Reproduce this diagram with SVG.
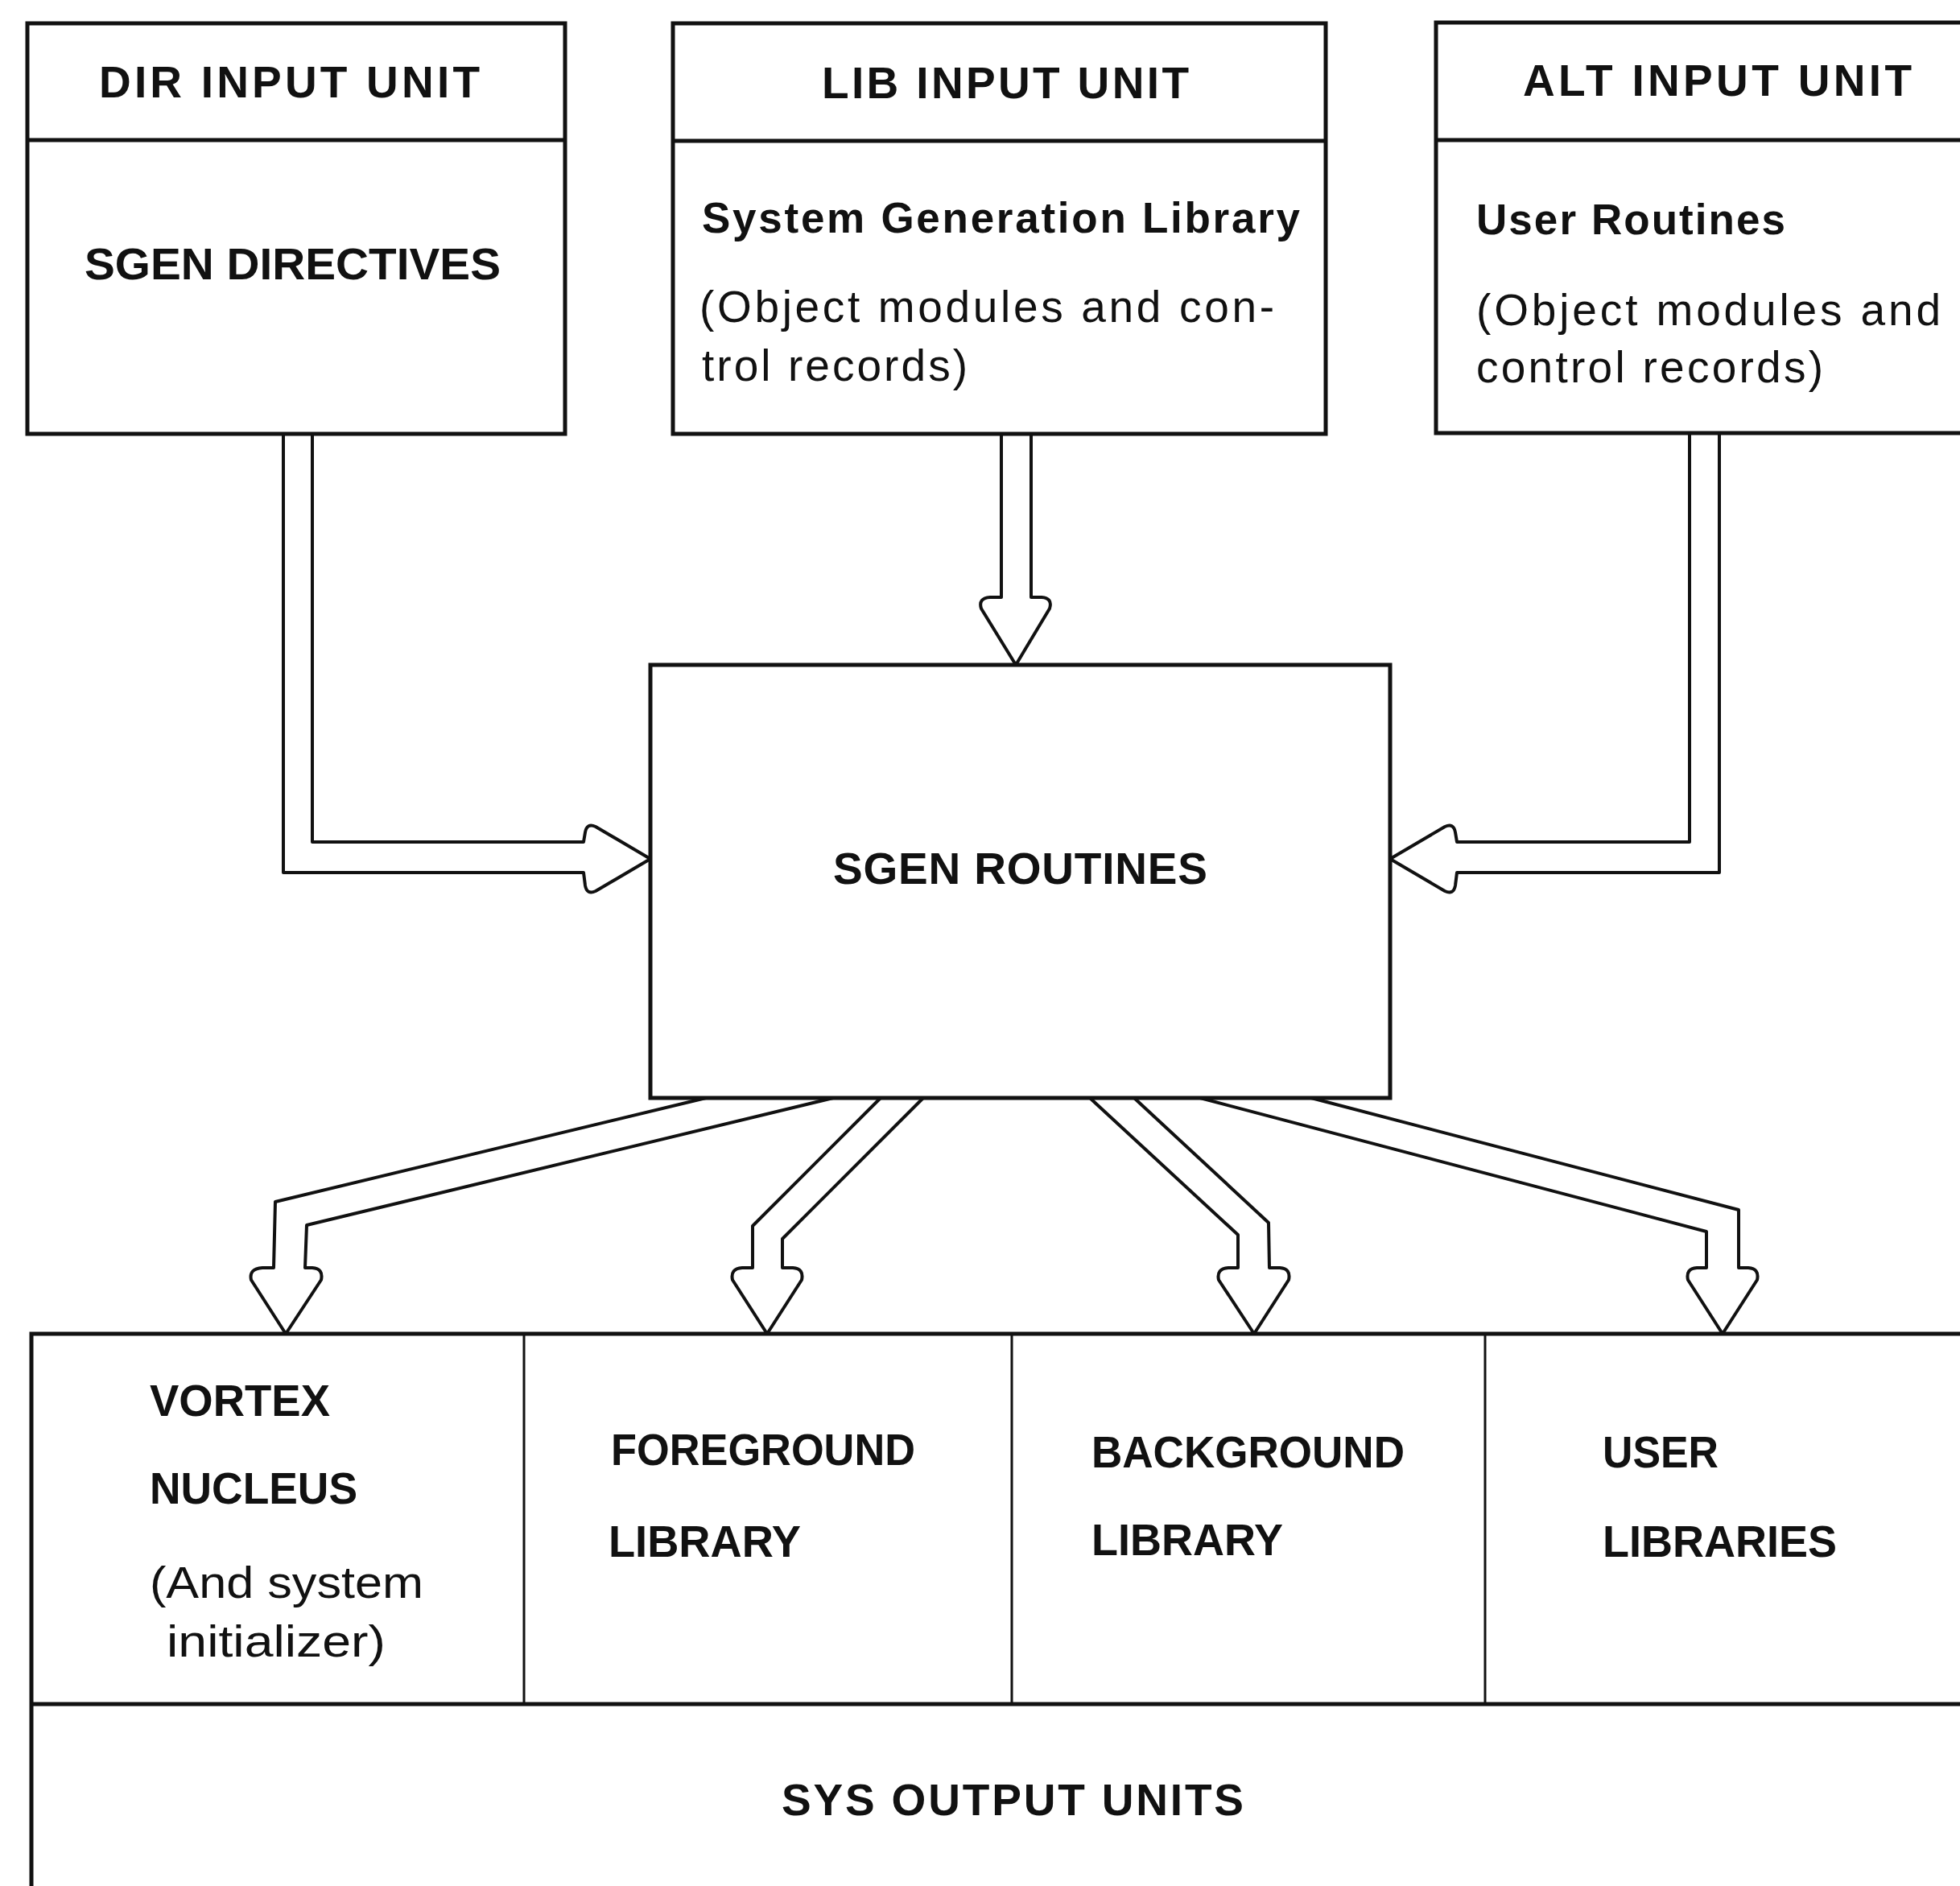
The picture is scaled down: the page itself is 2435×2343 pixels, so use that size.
<svg xmlns="http://www.w3.org/2000/svg" width="2435" height="2343" viewBox="0 0 2435 2343">
<style>
.box{fill:#fff;stroke:#111;stroke-width:5}
.div{fill:none;stroke:#111;stroke-width:5}
.thin{fill:none;stroke:#111;stroke-width:3}
.arr{fill:#fff;stroke:#111;stroke-width:4;stroke-linejoin:round}
.cap{font-family:"Liberation Sans",Arial,sans-serif;font-weight:bold;font-size:55px;fill:#111}
.sub{font-family:"Liberation Sans",Arial,sans-serif;font-weight:bold;font-size:53px;fill:#111}
.reg{font-family:"Liberation Sans",Arial,sans-serif;font-weight:normal;font-size:55px;fill:#111}
</style>
<rect width="2435" height="2343" fill="#fff"/>

<g id="connectors">
  <path id="c-dir" class="arr" d="M352,539 L352,1084 L725,1084 L727,1100 Q729,1112 740,1107 L808,1067 L740,1027 Q729,1022 727,1034 L725,1046 L388,1046 L388,539"/>
  <path id="c-lib" class="arr" d="M1244,539 L1244,742 L1230,742 Q1215,743 1219,756 L1262,826 L1304,756 Q1308,743 1294,742 L1281,742 L1281,539"/>
  <path id="c-alt" class="arr" d="M2136,539 L2136,1084 L1810,1084 L1808,1100 Q1806,1112 1795,1107 L1727,1067 L1795,1027 Q1806,1022 1808,1034 L1810,1046 L2099,1046 L2099,539"/>
  <path id="c-vortex" class="arr" d="M877,1364 L342,1493 L340,1575 L326,1575 Q309,1576 312,1590 L355,1657 L399,1590 Q402,1576 388,1575 L379,1575 L381,1522 L1035,1364"/>
  <path id="c-fore" class="arr" d="M1094,1364 L935,1523 L935,1575 L922,1575 Q907,1576 910,1590 L953,1657 L996,1590 Q999,1576 985,1575 L972,1575 L972,1539 L1147,1364"/>
  <path id="c-back" class="arr" d="M1354,1364 L1538,1534 L1538,1575 L1526,1575 Q1511,1576 1514,1590 L1558,1657 L1601,1590 Q1604,1576 1590,1575 L1577,1575 L1576,1519 L1409,1364"/>
  <path id="c-user" class="arr" d="M1491,1364 L2120,1530 L2120,1575 L2108,1575 Q2094,1576 2097,1590 L2140,1657 L2183,1590 Q2186,1576 2172,1575 L2160,1575 L2160,1503 L1629,1364"/>
</g>

<g id="node-dir">
  <rect class="box" x="34" y="29" width="668" height="510"/>
  <line class="div" x1="34" y1="174" x2="702" y2="174"/>
  <text class="cap" x="123" y="121" textLength="473" lengthAdjust="spacing">DIR INPUT UNIT</text>
  <text class="cap" x="105" y="347" textLength="517" lengthAdjust="spacingAndGlyphs" font-size="56">SGEN DIRECTIVES</text>
</g>

<g id="node-lib">
  <rect class="box" x="836" y="29" width="811" height="510"/>
  <line class="div" x1="836" y1="175" x2="1647" y2="175"/>
  <text class="cap" x="1021" y="122" textLength="456" lengthAdjust="spacing">LIB INPUT UNIT</text>
  <text class="sub" x="872" y="289" textLength="743" lengthAdjust="spacing">System Generation Library</text>
  <text class="reg" x="869" y="400" textLength="714" lengthAdjust="spacing">(Object modules and con-</text>
  <text class="reg" x="872" y="473" textLength="330" lengthAdjust="spacing">trol records)</text>
</g>

<g id="node-alt">
  <rect class="box" x="1784" y="28" width="720" height="510"/>
  <line class="div" x1="1784" y1="174" x2="2440" y2="174"/>
  <text class="cap" x="1892" y="119" textLength="483" lengthAdjust="spacing">ALT INPUT UNIT</text>
  <text class="sub" x="1834" y="291" textLength="384" lengthAdjust="spacing">User Routines</text>
  <text class="reg" x="1834" y="404" textLength="577" lengthAdjust="spacing">(Object modules and</text>
  <text class="reg" x="1834" y="475" textLength="431" lengthAdjust="spacing">control records)</text>
</g>

<g id="node-sgen">
  <rect class="box" x="808" y="826" width="919" height="538" stroke-width="4"/>
  <text class="cap" x="1035" y="1098" textLength="465" lengthAdjust="spacing">SGEN ROUTINES</text>
</g>

<g id="node-output">
  <rect class="box" x="39" y="1657" width="2450" height="760" fill="none"/>
  <line class="div" x1="39" y1="2117" x2="2440" y2="2117"/>
  <g id="node-vortex">
    <text class="cap" x="186" y="1759" textLength="224" lengthAdjust="spacingAndGlyphs">VORTEX</text>
    <text class="cap" x="186" y="1868" textLength="258" lengthAdjust="spacingAndGlyphs">NUCLEUS</text>
    <text class="reg" x="186" y="1985" textLength="340" lengthAdjust="spacingAndGlyphs">(And system</text>
    <text class="reg" x="207" y="2058" textLength="272" lengthAdjust="spacingAndGlyphs">initializer)</text>
  </g>
  <g id="node-foreground">
    <line class="thin" x1="651" y1="1657" x2="651" y2="2117"/>
    <text class="cap" x="759" y="1820" textLength="378" lengthAdjust="spacingAndGlyphs">FOREGROUND</text>
    <text class="cap" x="756" y="1934" textLength="239" lengthAdjust="spacingAndGlyphs">LIBRARY</text>
  </g>
  <g id="node-background">
    <line class="thin" x1="1257" y1="1657" x2="1257" y2="2117"/>
    <text class="cap" x="1356" y="1823" textLength="389" lengthAdjust="spacingAndGlyphs">BACKGROUND</text>
    <text class="cap" x="1356" y="1932" textLength="238" lengthAdjust="spacingAndGlyphs">LIBRARY</text>
  </g>
  <g id="node-user">
    <line class="thin" x1="1845" y1="1657" x2="1845" y2="2117"/>
    <text class="cap" x="1991" y="1823" textLength="144" lengthAdjust="spacingAndGlyphs">USER</text>
    <text class="cap" x="1991" y="1934" textLength="291" lengthAdjust="spacingAndGlyphs">LIBRARIES</text>
  </g>
  <g id="node-sysout">
    <text class="cap" x="971" y="2255" textLength="574" lengthAdjust="spacing">SYS OUTPUT UNITS</text>
  </g>
</g>
</svg>
